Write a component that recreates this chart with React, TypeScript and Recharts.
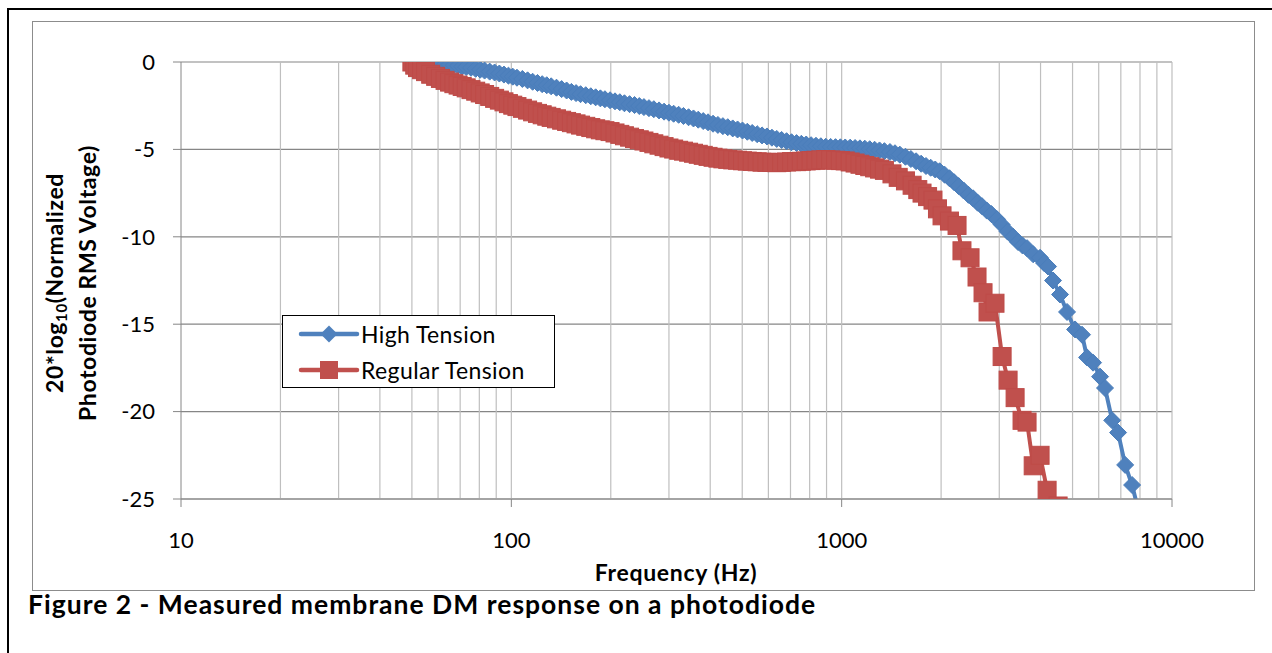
import React from 'react';
import { LineChart, Line, XAxis, YAxis, CartesianGrid, ReferenceLine, Legend } from 'recharts';

// shared low-frequency sweep (Hz), dense part of both curves
const lowBandHz = [
  50, 51, 52, 53.5, 55, 57, 59, 61, 63, 65,
  67, 69, 71, 73, 75.5, 78, 80.5, 83, 86, 89,
  92, 95, 98, 101, 104, 108, 112, 116, 120, 124,
  128, 132, 137, 142, 147, 152, 157, 162, 168, 174,
  180, 186, 192, 199, 206, 213, 220, 228, 236, 244,
  252, 261, 270, 280, 290, 300, 310, 321, 332, 344,
  356, 368, 381, 394, 408, 422, 437, 452, 468, 484,
  501, 518, 536, 555, 574, 594, 615, 636, 658, 681,
  705, 730, 755, 781, 808, 836, 865, 895, 926, 958,
  991, 1025, 1061, 1098, 1136, 1175, 1216, 1258, 1302, 1347,
];

const highTensionLowDb = [
  0.0, -0.01, -0.02, -0.03, -0.04, -0.06, -0.08, -0.1, -0.13, -0.15,
  -0.18, -0.22, -0.26, -0.29, -0.33, -0.39, -0.44, -0.49, -0.55, -0.6,
  -0.66, -0.72, -0.78, -0.84, -0.9, -0.97, -1.05, -1.13, -1.2, -1.27,
  -1.33, -1.39, -1.47, -1.55, -1.63, -1.71, -1.78, -1.84, -1.9, -1.96,
  -2.02, -2.08, -2.13, -2.19, -2.25, -2.3, -2.36, -2.41, -2.46, -2.52,
  -2.58, -2.64, -2.7, -2.77, -2.84, -2.9, -2.96, -3.02, -3.09, -3.16,
  -3.23, -3.3, -3.38, -3.45, -3.53, -3.6, -3.67, -3.73, -3.8, -3.86,
  -3.92, -3.99, -4.06, -4.13, -4.2, -4.26, -4.33, -4.4, -4.46, -4.53,
  -4.59, -4.64, -4.68, -4.72, -4.76, -4.79, -4.82, -4.85, -4.86, -4.87,
  -4.88, -4.89, -4.9, -4.92, -4.94, -4.96, -4.99, -5.02, -5.06, -5.1,
];

const regularTensionLowDb = [
  0.0, -0.18, -0.32, -0.44, -0.55, -0.7, -0.82, -0.94, -1.05, -1.15,
  -1.24, -1.32, -1.4, -1.48, -1.58, -1.67, -1.77, -1.86, -1.97, -2.08,
  -2.18, -2.28, -2.38, -2.47, -2.55, -2.65, -2.75, -2.85, -2.94, -3.02,
  -3.1, -3.17, -3.25, -3.33, -3.4, -3.47, -3.54, -3.61, -3.68, -3.75,
  -3.82, -3.88, -3.93, -3.98, -4.06, -4.14, -4.22, -4.3, -4.38, -4.45,
  -4.52, -4.6, -4.68, -4.76, -4.84, -4.92, -4.98, -5.05, -5.1, -5.16,
  -5.22, -5.28, -5.34, -5.4, -5.45, -5.5, -5.54, -5.57, -5.6, -5.62,
  -5.65, -5.67, -5.69, -5.71, -5.73, -5.74, -5.75, -5.76, -5.74, -5.72,
  -5.7, -5.7, -5.68, -5.66, -5.64, -5.62, -5.6, -5.58, -5.6, -5.62,
  -5.64, -5.66, -5.72, -5.78, -5.85, -5.92, -5.99, -6.06, -6.13, -6.2,
];

// roll-off tails (sparser points)
const highTensionTailHz = [
  1400, 1450, 1500, 1560, 1620, 1680, 1740, 1800, 1860, 1920,
  1980, 2050, 2120, 2190, 2260, 2340, 2420, 2500, 2580, 2660,
  2750, 2840, 2954, 3050, 3180, 3304, 3420, 3530, 3641, 3800,
  3987, 4100, 4215, 4364, 4582, 4811, 5088, 5341, 5532, 5768,
  6057, 6270, 6590, 6867, 7215, 7572, 7900,
];
const highTensionTailDb = [
  -5.15, -5.22, -5.3, -5.42, -5.55, -5.68, -5.82, -5.95, -6.05, -6.15,
  -6.25, -6.45, -6.65, -6.88, -7.1, -7.35, -7.6, -7.8, -8.05, -8.25,
  -8.5, -8.7, -9.0, -9.3, -9.7, -10.0, -10.3, -10.5, -10.65, -11.0,
  -11.2, -11.5, -11.7, -12.5, -13.3, -14.3, -15.3, -15.6, -16.9, -17.2,
  -18.0, -18.65, -20.5, -21.2, -23.05, -24.2, -25.6,
];

const regularTensionTailHz = [
  1420, 1483, 1560, 1634, 1700, 1751, 1820, 1890, 1950, 2013,
  2120, 2235, 2313, 2447, 2569, 2679, 2774, 2912, 3060, 3190,
  3350, 3516, 3641, 3800, 3987, 4187, 4521,
];
const regularTensionTailDb = [
  -6.4, -6.6, -6.8, -7.05, -7.3, -7.5, -7.7, -7.9, -8.4, -8.8,
  -9.1, -9.35, -10.8, -11.2, -12.3, -13.2, -14.3, -13.8, -16.85, -18.2,
  -19.2, -20.5, -20.6, -23.1, -22.5, -24.5, -25.4,
];

const xTicks = [10, 100, 1000, 10000];
const yTicks = [0, -5, -10, -15, -20, -25];
const minorGridHz = [
  20, 30, 40, 50, 60, 70, 80, 90, 100,
  200, 300, 400, 500, 600, 700, 800, 900, 1000,
  2000, 3000, 4000, 5000, 6000, 7000, 8000, 9000, 10000,
];

const highTension = [
  ...lowBandHz.map((f, i) => ({ f, db: highTensionLowDb[i] })),
  ...highTensionTailHz.map((f, i) => ({ f, db: highTensionTailDb[i] })),
];
const regularTension = [
  ...lowBandHz.map((f, i) => ({ f, db: regularTensionLowDb[i] })),
  ...regularTensionTailHz.map((f, i) => ({ f, db: regularTensionTailDb[i] })),
];

const BLUE = '#4F81BD';
const RED = '#C0504D';
const FONT = 'Lato, "Open Sans", sans-serif';

const diamondPath = (cx: number, cy: number, r: number) =>
  `M${cx},${cy - r}L${cx + r},${cy}L${cx},${cy + r}L${cx - r},${cy}Z`;

const renderDiamond = (props: any) => {
  const { cx, cy, index } = props;
  if (cx == null || cy == null) return <g key={`hd-${index}`} />;
  return <path key={`hd-${index}`} d={diamondPath(cx, cy, 8.5)} fill={BLUE} stroke="#4A7EBB" strokeWidth={1} />;
};

const renderSquare = (props: any) => {
  const { cx, cy, index } = props;
  if (cx == null || cy == null) return <g key={`rs-${index}`} />;
  return <rect key={`rs-${index}`} x={cx - 9} y={cy - 9} width={18} height={18} fill={RED} stroke="#BE4B48" strokeWidth={1} />;
};

const renderLegend = (props: any) => {
  const { payload = [] } = props;
  return (
    <div
      style={{
        width: 273,
        height: 73,
        border: '1.5px solid #000',
        background: '#fff',
        boxSizing: 'border-box',
        fontFamily: FONT,
        fontSize: 23,
        letterSpacing: 0.4,
        color: '#000',
      }}
    >
      {payload.map((entry: any) => (
        <div key={entry.value} style={{ display: 'flex', alignItems: 'center', height: 36 }}>
          <svg width={78} height={24} style={{ flex: 'none' }}>
            <line x1={18} y1={12} x2={74} y2={12} stroke={entry.color} strokeWidth={4.5} strokeLinecap="round" />
            {entry.type === 'diamond' ? (
              <path d={diamondPath(46, 12, 8.5)} fill={entry.color} />
            ) : (
              <rect x={37} y={3} width={18} height={18} fill={entry.color} />
            )}
          </svg>
          <span style={{ marginLeft: 0 }}>{entry.value}</span>
        </div>
      ))}
    </div>
  );
};

export default function App() {
  return (
    <div
      style={{
        position: 'fixed',
        left: 0,
        top: 0,
        width: 1272,
        height: 653,
        overflow: 'hidden',
        background: '#fff',
        fontFamily: FONT,
        color: '#000',
      }}
    >
      {/* figure frame */}
      <div
        style={{
          position: 'absolute',
          left: 7,
          top: 8,
          width: 1400,
          height: 800,
          border: '2px solid #000',
        }}
      />
      {/* chart area frame */}
      <div
        style={{
          position: 'absolute',
          left: 32,
          top: 21,
          width: 1223,
          height: 570,
          border: '1px solid #8c8c8c',
          boxSizing: 'border-box',
        }}
      />
      <div style={{ position: 'absolute', left: 32, top: 21 }}>
        <LineChart width={1223} height={570} margin={{ top: 41, right: 83, left: 0, bottom: 0 }}>
          <CartesianGrid vertical={false} stroke="#868686" strokeWidth={1.2} />
          {minorGridHz.map((v) => (
            <ReferenceLine key={v} x={v} stroke="#BFBFBF" strokeWidth={1.2} />
          ))}
          <XAxis
            type="number"
            dataKey="f"
            scale="log"
            domain={[10, 10000]}
            allowDataOverflow
            ticks={xTicks}
            interval={0}
            height={92}
            stroke="#868686"
            tickSize={8}
            tickMargin={25}
            tick={{ fill: '#000', fontSize: 22, fontFamily: FONT }}
          />
          <YAxis
            type="number"
            dataKey="db"
            domain={[-25, 0]}
            allowDataOverflow
            ticks={yTicks}
            interval={0}
            width={149}
            stroke="#868686"
            tickSize={8}
            tickMargin={18}
            tick={{ fill: '#000', fontSize: 22, fontFamily: FONT }}
          />
          <Legend
            layout="horizontal"
            verticalAlign="middle"
            align="center"
            content={renderLegend}
            wrapperStyle={{ left: 250, top: 294, width: 273, height: 73 }}
          />
          <Line
            name="High Tension"
            data={highTension}
            dataKey="db"
            type="linear"
            stroke={BLUE}
            strokeWidth={4}
            dot={renderDiamond}
            activeDot={false}
            legendType="diamond"
            isAnimationActive={false}
          />
          <Line
            name="Regular Tension"
            data={regularTension}
            dataKey="db"
            type="linear"
            stroke={RED}
            strokeWidth={4}
            dot={renderSquare}
            activeDot={false}
            legendType="square"
            isAnimationActive={false}
          />
        </LineChart>
      </div>
      {/* y axis title */}
      <div
        style={{
          position: 'absolute',
          left: 71 - 180,
          top: 283 - 33,
          width: 360,
          height: 66,
          transform: 'rotate(-90deg)',
          textAlign: 'center',
          fontWeight: 700,
          fontSize: 23,
          letterSpacing: 0.6,
          lineHeight: '33px',
          whiteSpace: 'nowrap',
        }}
      >
        <div>
          20*log<sub style={{ fontSize: '0.65em', verticalAlign: '-0.25em', lineHeight: 0 }}>10</sub>(Normalized
        </div>
        <div>Photodiode RMS Voltage)</div>
      </div>
      {/* x axis title */}
      <div
        style={{
          position: 'absolute',
          left: 476,
          top: 558,
          width: 400,
          textAlign: 'center',
          fontWeight: 700,
          fontSize: 23,
          letterSpacing: 0.7,
          lineHeight: '28px',
        }}
      >
        Frequency (Hz)
      </div>
      {/* caption */}
      <div
        style={{
          position: 'absolute',
          left: 28,
          top: 588,
          fontWeight: 700,
          fontSize: 26.5,
          letterSpacing: 1.0,
          lineHeight: '32px',
          whiteSpace: 'nowrap',
        }}
      >
        Figure 2 - Measured membrane DM response on a photodiode
      </div>
    </div>
  );
}
